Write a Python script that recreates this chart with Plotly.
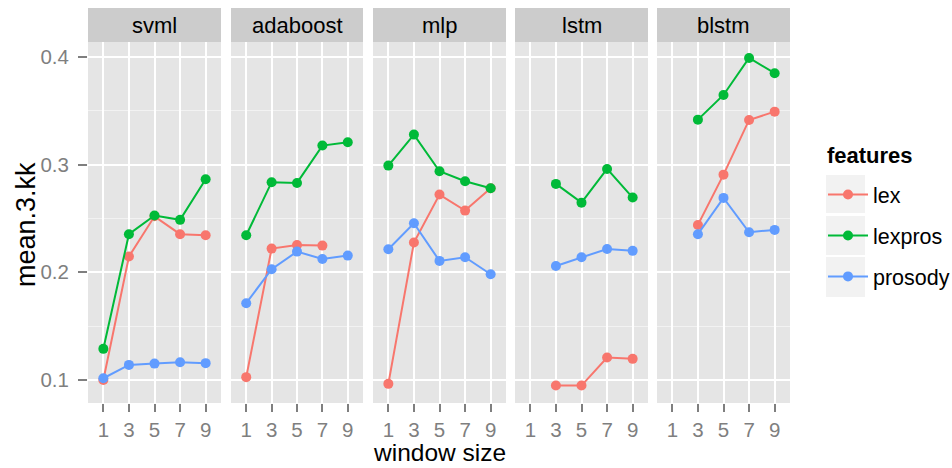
import plotly.graph_objects as go

panels = ["svml", "adaboost", "mlp", "lstm", "blstm"]
window_sizes = ["1", "3", "5", "7", "9"]
features = ["lex", "lexpros", "prosody"]
colors = {"lex": "#F8766D", "lexpros": "#00BA38", "prosody": "#619CFF"}

# x values per panel / feature
svml_x = ["1", "3", "5", "7", "9"]
svml_lex = [0.100, 0.2146, 0.2520, 0.2354, 0.2344]
svml_lexpros = [0.1289, 0.2354, 0.2527, 0.2487, 0.2864]
svml_prosody = [0.1016, 0.1140, 0.1152, 0.1165, 0.1156]

adaboost_lex_x = ["1", "3", "5", "7"]
adaboost_x = ["1", "3", "5", "7", "9"]
adaboost_lex = [0.1026, 0.2220, 0.2254, 0.2248]
adaboost_lexpros = [0.2344, 0.2837, 0.2830, 0.3177, 0.3208]
adaboost_prosody = [0.1713, 0.2029, 0.2192, 0.2124, 0.2155]

mlp_x = ["1", "3", "5", "7", "9"]
mlp_lex = [0.0964, 0.2276, 0.2722, 0.2573, 0.2780]
mlp_lexpros = [0.2991, 0.3279, 0.2939, 0.2846, 0.2781]
mlp_prosody = [0.2214, 0.2456, 0.2106, 0.2140, 0.1982]

lstm_x = ["3", "5", "7", "9"]
lstm_lex = [0.0948, 0.0948, 0.1208, 0.1196]
lstm_lexpros = [0.2821, 0.2647, 0.2960, 0.2694]
lstm_prosody = [0.2059, 0.2140, 0.2217, 0.2199]

blstm_x = ["3", "5", "7", "9"]
blstm_lex = [0.2440, 0.2907, 0.3415, 0.3492]
blstm_lexpros = [0.3418, 0.3647, 0.3991, 0.3849]
blstm_prosody = [0.2354, 0.2691, 0.2372, 0.2394]

data = {
    "svml": {"lex": (svml_x, svml_lex), "lexpros": (svml_x, svml_lexpros), "prosody": (svml_x, svml_prosody)},
    "adaboost": {"lex": (adaboost_lex_x, adaboost_lex), "lexpros": (adaboost_x, adaboost_lexpros), "prosody": (adaboost_x, adaboost_prosody)},
    "mlp": {"lex": (mlp_x, mlp_lex), "lexpros": (mlp_x, mlp_lexpros), "prosody": (mlp_x, mlp_prosody)},
    "lstm": {"lex": (lstm_x, lstm_lex), "lexpros": (lstm_x, lstm_lexpros), "prosody": (lstm_x, lstm_prosody)},
    "blstm": {"lex": (blstm_x, blstm_lex), "lexpros": (blstm_x, blstm_lexpros), "prosody": (blstm_x, blstm_prosody)},
}

W, H = 952, 468
ML, MR, MT, MB = 88, 162, 42, 65
PW = W - ML - MR
PH = H - MT - MB
panel_px = [(88, 221), (231, 363), (373, 506), (515, 648), (657, 790)]
domains = [((a - ML) / PW, (b - ML) / PW) for a, b in panel_px]

FONT = "Liberation Sans, Arial, sans-serif"
GREY = "#7F7F7F"
TICK_SIZE = 20.5

def px_x(px):
    return (px - ML) / PW

def px_y(py):
    return (H - MB - py) / PH

fig = go.Figure()
for i, p in enumerate(panels):
    suffix = "" if i == 0 else str(i + 1)
    for f in features:
        xs, ys = data[p][f]
        fig.add_trace(go.Scatter(
            x=xs, y=ys, mode="lines+markers", name=f,
            legendgroup=f, showlegend=(i == 0),
            line=dict(color=colors[f], width=2),
            marker=dict(color=colors[f], size=10),
            xaxis="x" + suffix, yaxis="y" + suffix,
        ))

layout = dict(
    width=W, height=H,
    margin=dict(l=ML, r=MR, t=MT, b=MB, autoexpand=False),
    paper_bgcolor="white", plot_bgcolor="#E5E5E5",
    font=dict(family=FONT, size=TICK_SIZE, color="black"),
    showlegend=True,
    legend=dict(
        font=dict(size=21.5, family=FONT),
        x=px_x(823), xanchor="left",
        y=px_y(174), yanchor="top",
        tracegroupgap=10, bgcolor="rgba(0,0,0,0)",
        itemwidth=40,
    ),
)
shapes = []
annotations = []
for i, p in enumerate(panels):
    suffix = "" if i == 0 else str(i + 1)
    layout["xaxis" + suffix] = dict(
        domain=list(domains[i]), anchor="y" + suffix,
        type="category", categoryorder="array", categoryarray=window_sizes,
        range=[-0.6, 4.6], showgrid=True, gridcolor="white", gridwidth=2,
        ticks="outside", ticklen=8, tickwidth=2, tickcolor=GREY,
        tickfont=dict(size=TICK_SIZE, color=GREY, family=FONT),
        zeroline=False, showline=False, fixedrange=True, automargin=False,
    )
    layout["yaxis" + suffix] = dict(
        domain=[0, 1], anchor="x" + suffix,
        range=[0.0786, 0.4139], tickvals=[0.1, 0.2, 0.3, 0.4],
        ticktext=["0.1", "0.2", "0.3", "0.4"],
        showgrid=True, gridcolor="white", gridwidth=2,
        minor=dict(tickvals=[0.15, 0.25, 0.35], showgrid=True, gridcolor="#F2F2F2", gridwidth=1, ticks=""),
        ticks="outside" if i == 0 else "", ticklen=9, tickwidth=2, tickcolor=GREY,
        ticklabelstandoff=5,
        showticklabels=(i == 0),
        tickfont=dict(size=TICK_SIZE, color=GREY, family=FONT),
        zeroline=False, showline=False, fixedrange=True, automargin=False,
    )
    if i > 0:
        layout["yaxis" + suffix]["matches"] = "y"
    x0, x1 = domains[i]
    shapes.append(dict(type="rect", xref="paper", yref="paper",
                       x0=x0, x1=x1, y0=1.0, y1=px_y(8),
                       fillcolor="#CCCCCC", line=dict(width=0), layer="below"))
    annotations.append(dict(text=p, xref="paper", yref="paper",
                            x=(x0 + x1) / 2, y=px_y(25), xanchor="center", yanchor="middle",
                            showarrow=False, font=dict(size=22, family=FONT, color="black")))

# legend key backgrounds
for top, bot in [(175, 213), (216, 255), (257, 297)]:
    shapes.append(dict(type="rect", xref="paper", yref="paper",
                       x0=px_x(826), x1=px_x(865), y0=px_y(bot), y1=px_y(top),
                       fillcolor="#F2F2F2", line=dict(width=0), layer="below"))

annotations.append(dict(text="<b>features</b>", xref="paper", yref="paper",
                        x=px_x(825), y=px_y(155), xanchor="left", yanchor="middle",
                        showarrow=False, font=dict(size=22, family=FONT, color="black")))
annotations.append(dict(text="window size", xref="paper", yref="paper",
                        x=0.5, y=px_y(452), xanchor="center", yanchor="middle", borderpad=0,
                        showarrow=False, font=dict(size=24.5, family=FONT, color="black")))
annotations.append(dict(text="mean.3.kk", xref="paper", yref="paper",
                        x=px_x(26), y=px_y(225), xanchor="center", yanchor="middle", textangle=-90,
                        showarrow=False, font=dict(size=27, family=FONT, color="black")))
layout["shapes"] = shapes
layout["annotations"] = annotations
fig.update_layout(**layout)
fig.write_html("out.html", config={"displayModeBar": False},
               post_script="document.body.style.margin='0px';")
